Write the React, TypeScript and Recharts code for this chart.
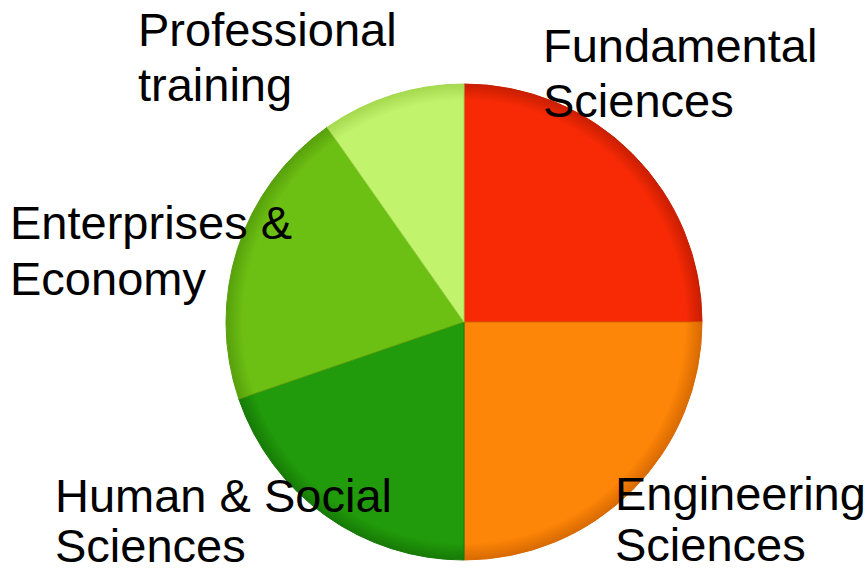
import { PieChart, Pie, Cell } from 'recharts';

const categories = [
  'Fundamental Sciences',
  'Engineering Sciences',
  'Human & Social Sciences',
  'Enterprises & Economy',
  'Professional training',
];
const shares = [25, 25, 19.75, 20.5, 9.75];
const labelLines = [
  ['Fundamental', 'Sciences'],
  ['Engineering', 'Sciences'],
  ['Human & Social', 'Sciences'],
  ['Enterprises &', 'Economy'],
  ['Professional', 'training'],
];

const COLORS = ['#f82a05', '#fd8507', '#219a0b', '#6cbf13', '#c2f36d'];
const EDGES = ['#c81e02', '#d86a02', '#177a06', '#57a00c', '#a5d94f'];

// where each label's first baseline sits, relative to the pie centre, and its line gap
const LABEL_OFFSET: Record<string, [number, number, number]> = {
  'Fundamental Sciences': [79, -260, 55],
  'Engineering Sciences': [151, 188, 51],
  'Human & Social Sciences': [-409, 190, 50],
  'Enterprises & Economy': [-454, -83, 56],
  'Professional training': [-326, -276, 55],
};

const data = categories.map((name, i) => ({ name, value: shares[i], lines: labelLines[i] }));

const CX = 464;
const CY = 322;
const R = 238;

function renderLabel(props: any) {
  const { payload, index } = props;
  const name = payload?.name ?? categories[index];
  const off = LABEL_OFFSET[name];
  const lines: string[] = payload?.lines ?? labelLines[index];
  return (
    <text
      key={name}
      x={CX + off[0]}
      y={CY + off[1]}
      fill="#000"
      fontSize={47}
      fontFamily='"Liberation Sans", Arial, sans-serif'
      textAnchor="start"
    >
      {lines.map((l, j) => (
        <tspan key={j} x={CX + off[0]} dy={j === 0 ? 0 : off[2]}>
          {l}
        </tspan>
      ))}
    </text>
  );
}

export default function App() {
  return (
    <div style={{ position: 'absolute', left: 0, top: 0, width: 868, height: 573, background: '#fff' }}>
      <PieChart width={868} height={573} margin={{ top: 0, right: 0, bottom: 0, left: 0 }}>
        <defs>
          {COLORS.map((c, i) => (
            <radialGradient key={i} id={`slice${i}`} gradientUnits="userSpaceOnUse" cx={CX} cy={CY} r={R}>
              <stop offset="0%" stopColor={c} />
              <stop offset="93%" stopColor={c} />
              <stop offset="100%" stopColor={EDGES[i]} />
            </radialGradient>
          ))}
        </defs>
        <Pie
          data={data}
          dataKey="value"
          nameKey="name"
          cx={CX}
          cy={CY}
          outerRadius={R}
          startAngle={90}
          endAngle={-270}
          labelLine={false}
          label={renderLabel}
          isAnimationActive={false}
        >
          {data.map((entry, i) => (
            <Cell key={entry.name} fill={`url(#slice${i})`} stroke={EDGES[i]} strokeWidth={1} />
          ))}
        </Pie>
      </PieChart>
    </div>
  );
}
